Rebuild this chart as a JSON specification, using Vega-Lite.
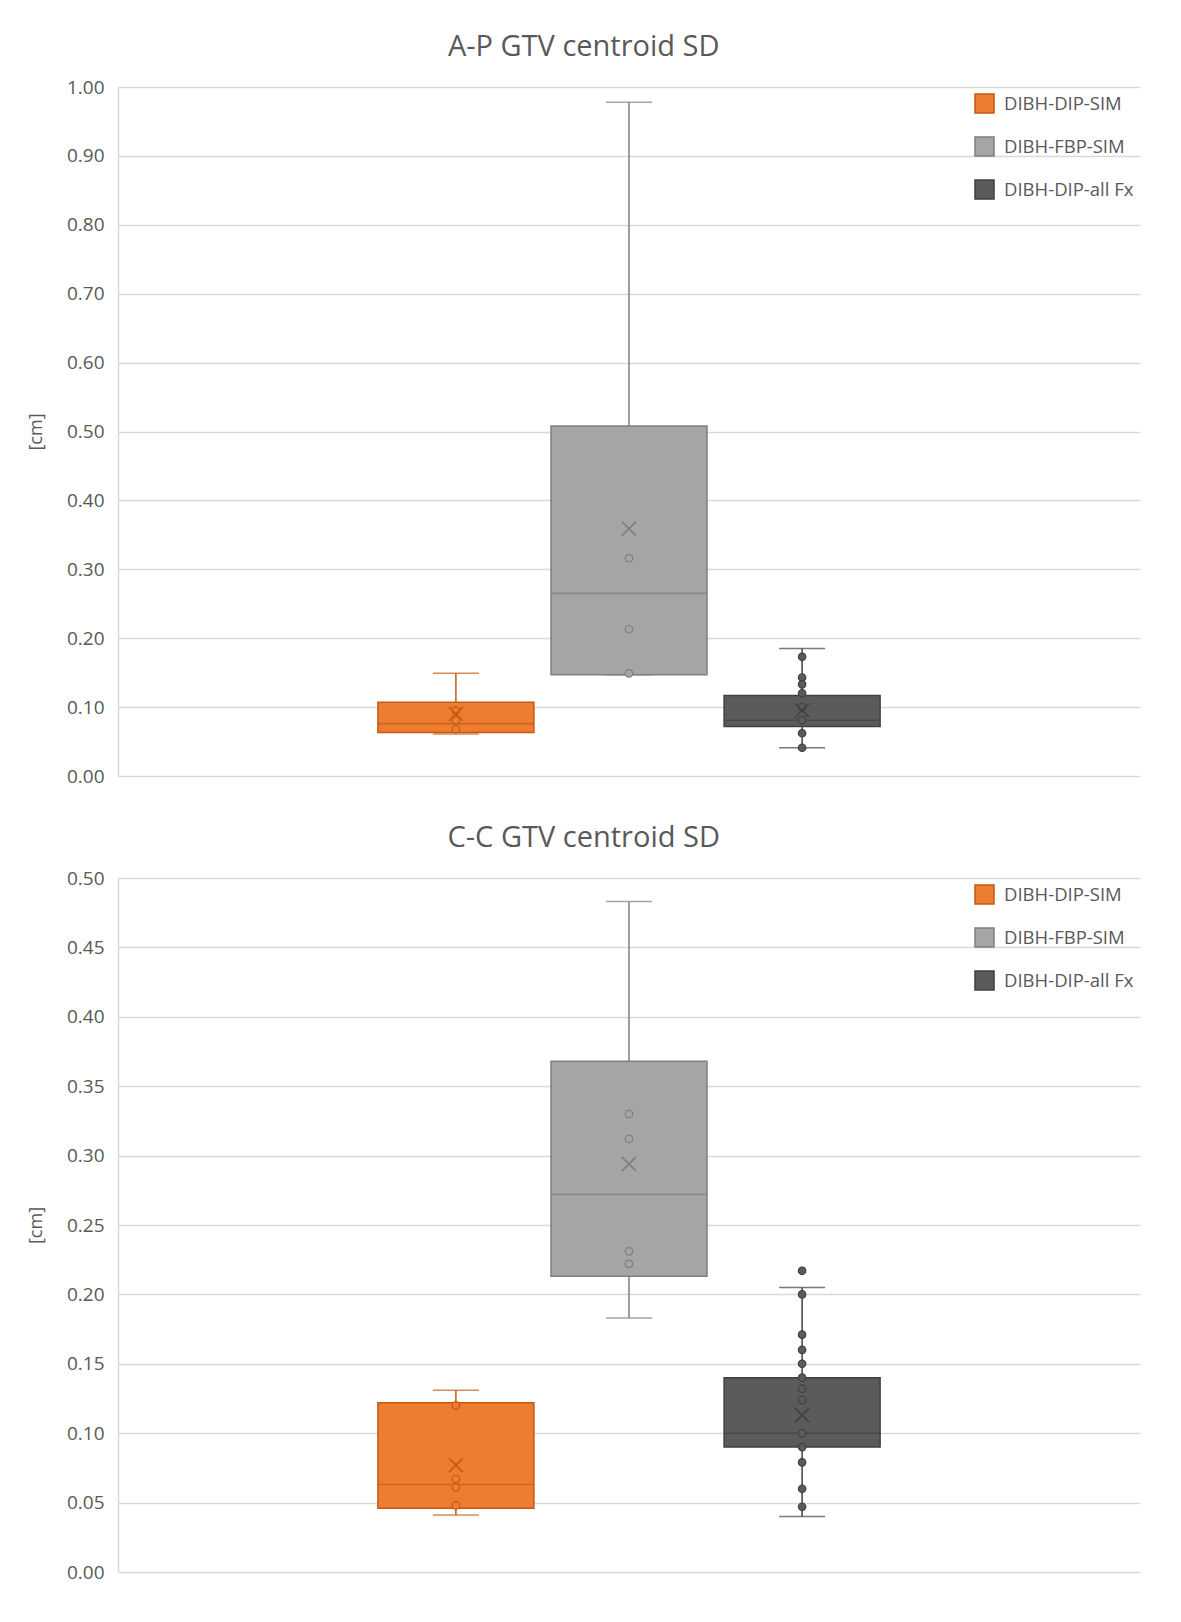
{
  "$schema": "https://vega.github.io/schema/vega-lite/v6.json",
  "background": "white",
  "padding": {"left": 27, "top": 33, "right": 36, "bottom": 20},
  "spacing": 38,
  "config": {
    "view": {"stroke": null},
    "font": "Open Sans",
    "axis": {
      "labelFont": "Open Sans",
      "labelFontSize": 19,
      "labelColor": "#595959",
      "ticks": false,
      "labelPadding": 14,
      "domainColor": "#D9D9D9",
      "domainWidth": 1.5,
      "gridColor": "#D9D9D9",
      "gridWidth": 1.5,
      "titleFont": "Open Sans",
      "titleFontSize": 18,
      "titleFontWeight": "normal",
      "titleColor": "#595959",
      "titlePadding": 21
    },
    "title": {
      "font": "Open Sans",
      "fontSize": 29,
      "fontWeight": "normal",
      "color": "#595959",
      "anchor": "middle",
      "frame": "bounds",
      "offset": 16
    },
    "legend": {
      "orient": "none",
      "legendX": 856,
      "legendY": 6,
      "symbolType": "square",
      "symbolSize": 361,
      "symbolStrokeWidth": 1.5,
      "symbolOpacity": 1,
      "labelFont": "Open Sans",
      "labelFontSize": 18.5,
      "labelColor": "#595959",
      "rowPadding": 18,
      "labelOffset": 9
    }
  },
  "datasets": {
    "stats": [
      {"panel": "A-P", "series": "DIBH-DIP-SIM", "lo": 0.061, "q1": 0.063, "median": 0.076, "q3": 0.107, "hi": 0.149, "mean": 0.090},
      {"panel": "A-P", "series": "DIBH-FBP-SIM", "lo": 0.147, "q1": 0.147, "median": 0.265, "q3": 0.508, "hi": 0.978, "mean": 0.359},
      {"panel": "A-P", "series": "DIBH-DIP-all Fx", "lo": 0.041, "q1": 0.072, "median": 0.081, "q3": 0.117, "hi": 0.185, "mean": 0.095},
      {"panel": "C-C", "series": "DIBH-DIP-SIM", "lo": 0.041, "q1": 0.046, "median": 0.063, "q3": 0.122, "hi": 0.131, "mean": 0.077},
      {"panel": "C-C", "series": "DIBH-FBP-SIM", "lo": 0.183, "q1": 0.213, "median": 0.272, "q3": 0.368, "hi": 0.483, "mean": 0.294},
      {"panel": "C-C", "series": "DIBH-DIP-all Fx", "lo": 0.040, "q1": 0.090, "median": 0.100, "q3": 0.140, "hi": 0.205, "mean": 0.113}
    ],
    "points": [
      {"panel": "A-P", "series": "DIBH-DIP-SIM", "value": 0.095},
      {"panel": "A-P", "series": "DIBH-DIP-SIM", "value": 0.081},
      {"panel": "A-P", "series": "DIBH-DIP-SIM", "value": 0.068},
      {"panel": "A-P", "series": "DIBH-FBP-SIM", "value": 0.316},
      {"panel": "A-P", "series": "DIBH-FBP-SIM", "value": 0.213},
      {"panel": "A-P", "series": "DIBH-FBP-SIM", "value": 0.149},
      {"panel": "A-P", "series": "DIBH-DIP-all Fx", "value": 0.173},
      {"panel": "A-P", "series": "DIBH-DIP-all Fx", "value": 0.143},
      {"panel": "A-P", "series": "DIBH-DIP-all Fx", "value": 0.133},
      {"panel": "A-P", "series": "DIBH-DIP-all Fx", "value": 0.120},
      {"panel": "A-P", "series": "DIBH-DIP-all Fx", "value": 0.100},
      {"panel": "A-P", "series": "DIBH-DIP-all Fx", "value": 0.081},
      {"panel": "A-P", "series": "DIBH-DIP-all Fx", "value": 0.062},
      {"panel": "A-P", "series": "DIBH-DIP-all Fx", "value": 0.041},
      {"panel": "C-C", "series": "DIBH-DIP-SIM", "value": 0.120},
      {"panel": "C-C", "series": "DIBH-DIP-SIM", "value": 0.067},
      {"panel": "C-C", "series": "DIBH-DIP-SIM", "value": 0.061},
      {"panel": "C-C", "series": "DIBH-DIP-SIM", "value": 0.048},
      {"panel": "C-C", "series": "DIBH-FBP-SIM", "value": 0.330},
      {"panel": "C-C", "series": "DIBH-FBP-SIM", "value": 0.312},
      {"panel": "C-C", "series": "DIBH-FBP-SIM", "value": 0.231},
      {"panel": "C-C", "series": "DIBH-FBP-SIM", "value": 0.222},
      {"panel": "C-C", "series": "DIBH-DIP-all Fx", "value": 0.217},
      {"panel": "C-C", "series": "DIBH-DIP-all Fx", "value": 0.200},
      {"panel": "C-C", "series": "DIBH-DIP-all Fx", "value": 0.171},
      {"panel": "C-C", "series": "DIBH-DIP-all Fx", "value": 0.160},
      {"panel": "C-C", "series": "DIBH-DIP-all Fx", "value": 0.150},
      {"panel": "C-C", "series": "DIBH-DIP-all Fx", "value": 0.140},
      {"panel": "C-C", "series": "DIBH-DIP-all Fx", "value": 0.132},
      {"panel": "C-C", "series": "DIBH-DIP-all Fx", "value": 0.124},
      {"panel": "C-C", "series": "DIBH-DIP-all Fx", "value": 0.100},
      {"panel": "C-C", "series": "DIBH-DIP-all Fx", "value": 0.090},
      {"panel": "C-C", "series": "DIBH-DIP-all Fx", "value": 0.079},
      {"panel": "C-C", "series": "DIBH-DIP-all Fx", "value": 0.060},
      {"panel": "C-C", "series": "DIBH-DIP-all Fx", "value": 0.047}
    ]
  },
  "resolve": {
    "scale": {"x": "independent", "xOffset": "independent", "y": "independent", "fill": "independent", "stroke": "independent"},
    "legend": {"fill": "independent", "stroke": "independent"}
  },
  "vconcat": [
    {
      "title": {"text": "A-P GTV centroid SD"},
      "width": 1022,
      "height": 689,
      "encoding": {
        "x": {"field": "panel", "type": "nominal", "scale": {"paddingInner": 0, "paddingOuter": 0.484}, "axis": null},
        "xOffset": {"field": "series", "type": "nominal",
          "sort": ["DIBH-DIP-SIM", "DIBH-FBP-SIM", "DIBH-DIP-all Fx"],
          "scale": {"paddingInner": 0, "paddingOuter": 0}}
      },
      "layer": [
        {
          "data": {"name": "stats"},
          "transform": [{"filter": "datum.panel === 'A-P'"}],
          "mark": {"type": "rule", "strokeWidth": 1.5},
          "encoding": {
            "y": {"field": "lo", "type": "quantitative", "title": "[cm]",
              "scale": {"domain": [0, 1], "nice": false, "zero": true},
              "axis": {"values": [0, 0.1, 0.2, 0.3, 0.4, 0.5, 0.6, 0.7, 0.8, 0.9, 1.0], "format": ".2f"}},
            "y2": {"field": "hi"},
            "stroke": {"field": "series", "type": "nominal",
              "scale": {"domain": ["DIBH-DIP-SIM", "DIBH-FBP-SIM", "DIBH-DIP-all Fx"], "range": ["#C55A11", "#7F7F7F", "#404040"]}}
          }
        },
        {
          "data": {"name": "stats"},
          "transform": [{"filter": "datum.panel === 'A-P'"}],
          "mark": {"type": "tick", "size": 46, "thickness": 0, "filled": false, "strokeWidth": 1.5},
          "encoding": {
            "y": {"field": "hi", "type": "quantitative", "title": "[cm]"},
            "stroke": {"field": "series", "type": "nominal"}
          }
        },
        {
          "data": {"name": "stats"},
          "transform": [{"filter": "datum.panel === 'A-P'"}],
          "mark": {"type": "tick", "size": 46, "thickness": 0, "filled": false, "strokeWidth": 1.5},
          "encoding": {
            "y": {"field": "lo", "type": "quantitative", "title": "[cm]"},
            "stroke": {"field": "series", "type": "nominal"}
          }
        },
        {
          "data": {"name": "stats"},
          "transform": [{"filter": "datum.panel === 'A-P'"}],
          "mark": {"type": "bar", "width": 156, "strokeWidth": 1.5, "opacity": 1},
          "encoding": {
            "y": {"field": "q1", "type": "quantitative", "title": "[cm]"},
            "y2": {"field": "q3"},
            "fill": {"field": "series", "type": "nominal", "legend": {"title": null},
              "scale": {"domain": ["DIBH-DIP-SIM", "DIBH-FBP-SIM", "DIBH-DIP-all Fx"], "range": ["#ED7D31", "#A5A5A5", "#5B5B5B"]}},
            "stroke": {"field": "series", "type": "nominal", "legend": {"title": null}}
          }
        },
        {
          "data": {"name": "stats"},
          "transform": [{"filter": "datum.panel === 'A-P'"}],
          "mark": {"type": "tick", "size": 156, "thickness": 0, "filled": false, "strokeWidth": 1.6},
          "encoding": {
            "y": {"field": "median", "type": "quantitative", "title": "[cm]"},
            "stroke": {"field": "series", "type": "nominal"}
          }
        },
        {
          "data": {"name": "points"},
          "transform": [{"filter": "datum.panel === 'A-P'"}],
          "mark": {"type": "point", "shape": "circle", "filled": true, "size": 56, "strokeWidth": 1.2, "opacity": 1},
          "encoding": {
            "y": {"field": "value", "type": "quantitative", "title": "[cm]"},
            "fill": {"field": "series", "type": "nominal"},
            "stroke": {"field": "series", "type": "nominal"}
          }
        },
        {
          "data": {"name": "stats"},
          "transform": [{"filter": "datum.panel === 'A-P'"}],
          "mark": {"type": "point", "shape": "M-1,-1L1,1M1,-1L-1,1", "filled": false, "size": 196, "strokeWidth": 1.6, "opacity": 1},
          "encoding": {
            "y": {"field": "mean", "type": "quantitative", "title": "[cm]"},
            "stroke": {"field": "series", "type": "nominal"}
          }
        }
      ]
    },
    {
      "title": {"text": "C-C GTV centroid SD"},
      "width": 1022,
      "height": 694,
      "encoding": {
        "x": {"field": "panel", "type": "nominal", "scale": {"paddingInner": 0, "paddingOuter": 0.484}, "axis": null},
        "xOffset": {"field": "series", "type": "nominal",
          "sort": ["DIBH-DIP-SIM", "DIBH-FBP-SIM", "DIBH-DIP-all Fx"],
          "scale": {"paddingInner": 0, "paddingOuter": 0}}
      },
      "layer": [
        {
          "data": {"name": "stats"},
          "transform": [{"filter": "datum.panel === 'C-C'"}],
          "mark": {"type": "rule", "strokeWidth": 1.5},
          "encoding": {
            "y": {"field": "lo", "type": "quantitative", "title": "[cm]",
              "scale": {"domain": [0, 0.5], "nice": false, "zero": true},
              "axis": {"values": [0, 0.05, 0.1, 0.15, 0.2, 0.25, 0.3, 0.35, 0.4, 0.45, 0.5], "format": ".2f"}},
            "y2": {"field": "hi"},
            "stroke": {"field": "series", "type": "nominal",
              "scale": {"domain": ["DIBH-DIP-SIM", "DIBH-FBP-SIM", "DIBH-DIP-all Fx"], "range": ["#C55A11", "#7F7F7F", "#404040"]}}
          }
        },
        {
          "data": {"name": "stats"},
          "transform": [{"filter": "datum.panel === 'C-C'"}],
          "mark": {"type": "tick", "size": 46, "thickness": 0, "filled": false, "strokeWidth": 1.5},
          "encoding": {
            "y": {"field": "hi", "type": "quantitative", "title": "[cm]"},
            "stroke": {"field": "series", "type": "nominal"}
          }
        },
        {
          "data": {"name": "stats"},
          "transform": [{"filter": "datum.panel === 'C-C'"}],
          "mark": {"type": "tick", "size": 46, "thickness": 0, "filled": false, "strokeWidth": 1.5},
          "encoding": {
            "y": {"field": "lo", "type": "quantitative", "title": "[cm]"},
            "stroke": {"field": "series", "type": "nominal"}
          }
        },
        {
          "data": {"name": "stats"},
          "transform": [{"filter": "datum.panel === 'C-C'"}],
          "mark": {"type": "bar", "width": 156, "strokeWidth": 1.5, "opacity": 1},
          "encoding": {
            "y": {"field": "q1", "type": "quantitative", "title": "[cm]"},
            "y2": {"field": "q3"},
            "fill": {"field": "series", "type": "nominal", "legend": {"title": null},
              "scale": {"domain": ["DIBH-DIP-SIM", "DIBH-FBP-SIM", "DIBH-DIP-all Fx"], "range": ["#ED7D31", "#A5A5A5", "#5B5B5B"]}},
            "stroke": {"field": "series", "type": "nominal", "legend": {"title": null}}
          }
        },
        {
          "data": {"name": "stats"},
          "transform": [{"filter": "datum.panel === 'C-C'"}],
          "mark": {"type": "tick", "size": 156, "thickness": 0, "filled": false, "strokeWidth": 1.6},
          "encoding": {
            "y": {"field": "median", "type": "quantitative", "title": "[cm]"},
            "stroke": {"field": "series", "type": "nominal"}
          }
        },
        {
          "data": {"name": "points"},
          "transform": [{"filter": "datum.panel === 'C-C'"}],
          "mark": {"type": "point", "shape": "circle", "filled": true, "size": 56, "strokeWidth": 1.2, "opacity": 1},
          "encoding": {
            "y": {"field": "value", "type": "quantitative", "title": "[cm]"},
            "fill": {"field": "series", "type": "nominal"},
            "stroke": {"field": "series", "type": "nominal"}
          }
        },
        {
          "data": {"name": "stats"},
          "transform": [{"filter": "datum.panel === 'C-C'"}],
          "mark": {"type": "point", "shape": "M-1,-1L1,1M1,-1L-1,1", "filled": false, "size": 196, "strokeWidth": 1.6, "opacity": 1},
          "encoding": {
            "y": {"field": "mean", "type": "quantitative", "title": "[cm]"},
            "stroke": {"field": "series", "type": "nominal"}
          }
        }
      ]
    }
  ]
}
